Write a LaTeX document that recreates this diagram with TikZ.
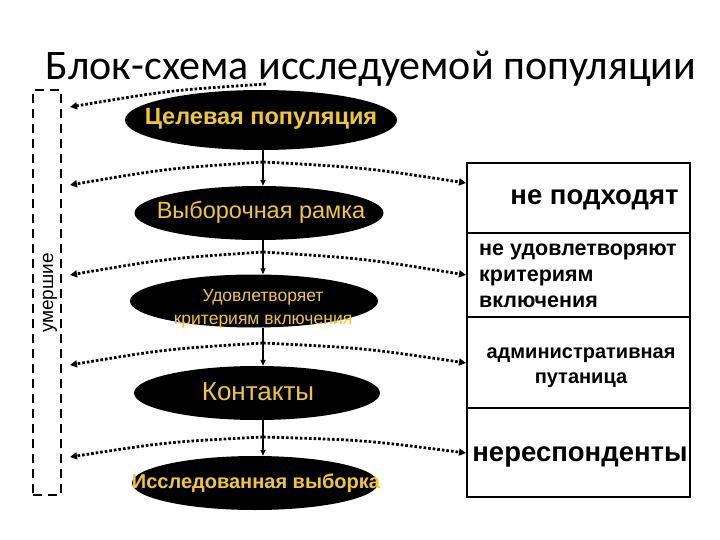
\documentclass[tikz,border=0pt]{standalone}
\usepackage{fontspec}
\setmainfont{Liberation Sans}
\newfontfamily\titlefont{Carlito}
\usetikzlibrary{shapes.geometric,arrows.meta,calc}
\definecolor{ellyellow}{RGB}{240,200,40}
\begin{document}
\begin{tikzpicture}[x=1pt,y=-1pt,
  ell/.style={ellipse,fill=black,draw=none,inner sep=0pt},
  etext/.style={text=ellyellow,inner sep=0pt,align=center},
  vline/.style={line width=1.3pt,-{Triangle[length=6pt,width=5pt]}},
  dotarrow/.style={line width=2.8pt,dash pattern=on 2.6pt off 2pt,-{Triangle[length=7pt,width=7pt]}},
  sect/.style={draw,line width=2.2pt,minimum width=223pt,inner sep=0pt},
  btext/.style={font=\bfseries,inner sep=0pt},
  deadbox/.style={draw,line width=2.8pt,dash pattern=on 9pt off 6pt,minimum width=28pt,minimum height=405pt,inner sep=0pt}
]
\useasboundingbox (0,0) rectangle (720,540);
\fill[white] (0,0) rectangle (720,540);

% title
\node[font=\titlefont\fontsize{42}{46}\selectfont,anchor=base,inner sep=0pt] (title) at (371,80) {Блок-схема исследуемой популяции};

% left dashed box
\node[deadbox] (dead) at (47,292.5) {};
\node[rotate=90,font=\fontsize{19}{22}\selectfont,inner sep=0pt] (deadtxt) at (50,293) {умершие};

% right box sections
\node[sect,minimum height=70pt] (s1) at (578.5,198) {};
\node[sect,minimum height=84pt] (s2) at (578.5,275) {};
\node[sect,minimum height=91pt] (s3) at (578.5,362.5) {};
\node[sect,minimum height=89pt] (s4) at (578.5,452.5) {};
\node[btext,font=\bfseries\fontsize{27.5}{30}\selectfont] (t1) at (594.5,200) {не подходят};
\node[btext,font=\bfseries\fontsize{21.5}{26}\selectfont,align=left,anchor=west] (t2) at (479,276) {не удовлетворяют\\критериям\\включения};
\node[btext,font=\bfseries\fontsize{20}{25}\selectfont,align=center] (t3) at (581,368) {административная\\путаница};
\node[btext,font=\bfseries\fontsize{27.5}{30}\selectfont] (t4) at (580,457) {нереспонденты};

% connection points
\coordinate (j0) at (266,84);
\coordinate (j1) at (263,162);
\coordinate (j2) at (263,252);
\coordinate (j3) at (263,343);
\coordinate (j4) at (263,437);
\coordinate (l0) at (70,107);
\coordinate (l1) at (70,185);
\coordinate (l2) at (70,275);
\coordinate (l3) at (70,365);
\coordinate (l4) at (70,457);
\coordinate (r1) at (466,183);
\coordinate (r2) at (466,275);
\coordinate (r3) at (466,363);
\coordinate (r4) at (466,453);

% dotted arcs
\foreach \i in {0,1,2,3,4}{
  \draw[dotarrow] (j\i) .. controls ($(j\i)!0.5!(l\i)+(0,-5)$) .. (l\i);
}
\foreach \i in {1,2,3,4}{
  \draw[dotarrow] (j\i) .. controls ($(j\i)!0.5!(r\i)+(0,-5)$) .. (r\i);
}

% ellipses
\node[ell,minimum width=272pt,minimum height=60pt] (e1) at (261,120) {};
\node[ell,minimum width=249pt,minimum height=54pt] (e2) at (259,213) {};
\node[ell,minimum width=248pt,minimum height=53pt] (e3) at (254,301) {};
\node[ell,minimum width=246pt,minimum height=54pt] (e4) at (257,393) {};
\node[ell,minimum width=246pt,minimum height=54pt] (e5) at (255,483) {};

\node[etext,font=\bfseries\fontsize{23.5}{26}\selectfont] (et1) at (261,119) {Целевая популяция};
\node[etext,font=\fontsize{23.5}{26}\selectfont] (et2) at (261,212) {Выборочная рамка};
\node[etext,font=\fontsize{17.5}{23}\selectfont] (et3) at (263,309) {Удовлетворяет\\критериям включения};
\node[etext,font=\fontsize{26}{28}\selectfont] (et4) at (258,392) {Контакты};
\node[etext,font=\bfseries\fontsize{20}{24}\selectfont] (et5) at (256,483) {Исследованная выборка};

% vertical arrows
\coordinate (ax) at (263,0);
\draw[vline] (e1.south -| ax) -- (e2.north -| ax);
\draw[vline] (e2.south -| ax) -- (e3.north -| ax);
\draw[vline] (e3.south -| ax) -- (e4.north -| ax);
\draw[vline] (e4.south -| ax) -- (e5.north -| ax);
\end{tikzpicture}
\end{document}
